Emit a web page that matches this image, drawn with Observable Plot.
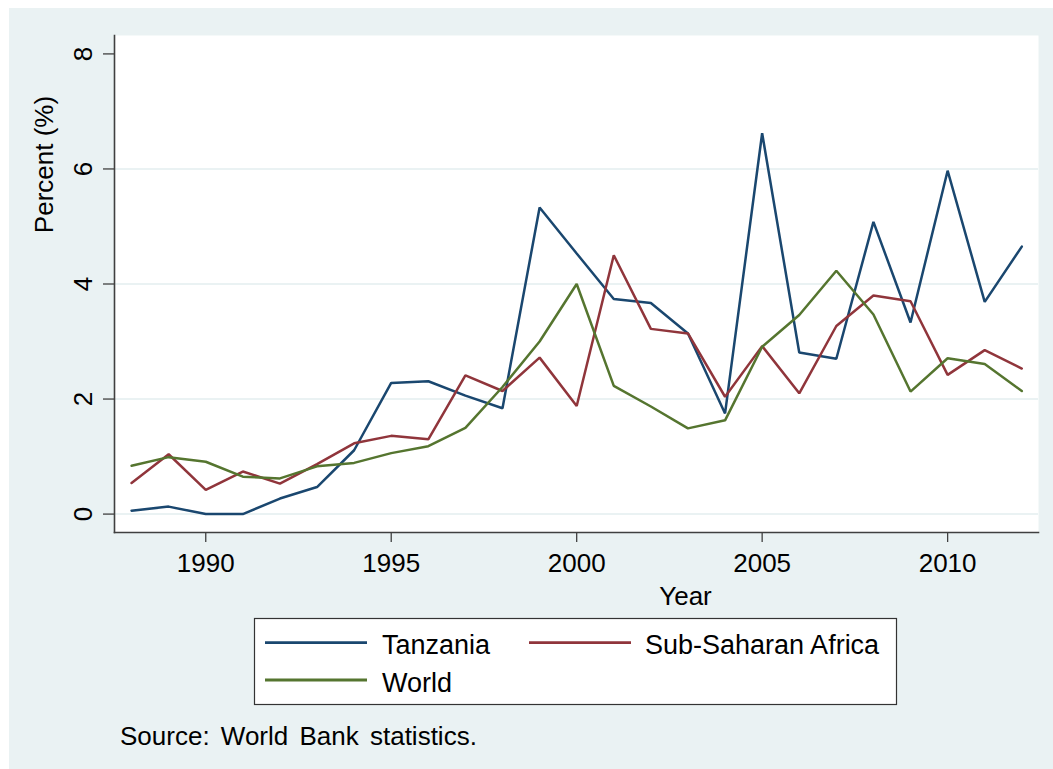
<!DOCTYPE html>
<html>
<head>
<meta charset="utf-8">
<script src="https://cdn.jsdelivr.net/npm/d3@7"></script>
<script src="https://cdn.jsdelivr.net/npm/@observablehq/plot@0.6"></script>
<style>
  html, body { margin: 0; padding: 0; background: #ffffff; }
  body { width: 1053px; height: 769px; position: relative; overflow: hidden;
         font-family: "Liberation Sans", Arial, Helvetica, sans-serif; }
  #bg { position: absolute; left: 9px; top: 8px; right: 0; bottom: 0; background: #EAF2F3; }
  #chart { position: absolute; left: 0; top: 0; }
  #legend { position: absolute; left: 254px; top: 618px; }
  #source { position: absolute; left: 120px; top: 723px; font-size: 26px; line-height: 26px;
            color: #000; white-space: nowrap; word-spacing: 4px; }
</style>
</head>
<body>
<div id="bg"></div>
<div id="chart"></div>
<div id="legend"></div>
<div id="source">Source: World Bank statistics.</div>
<script>
// Annual series, percent, 1988–2012
const years = [1988, 1989, 1990, 1991, 1992, 1993, 1994, 1995, 1996, 1997, 1998, 1999,
               2000, 2001, 2002, 2003, 2004, 2005, 2006, 2007, 2008, 2009, 2010, 2011, 2012];
const tanzania = [0.06, 0.13, 0.00, 0.00, 0.27, 0.47, 1.11, 2.28, 2.31, 2.06, 1.84, 5.33,
                  4.53, 3.74, 3.67, 3.14, 1.75, 6.62, 2.81, 2.70, 5.08, 3.33, 5.97, 3.69, 4.65];
const ssa      = [0.54, 1.04, 0.42, 0.74, 0.53, 0.87, 1.23, 1.36, 1.30, 2.41, 2.14, 2.72,
                  1.88, 4.50, 3.22, 3.14, 2.04, 2.92, 2.10, 3.27, 3.80, 3.70, 2.42, 2.85, 2.53];
const world    = [0.84, 0.99, 0.91, 0.65, 0.62, 0.83, 0.89, 1.06, 1.18, 1.50, 2.21, 3.00,
                  4.00, 2.23, 1.87, 1.49, 1.63, 2.91, 3.46, 4.23, 3.47, 2.13, 2.71, 2.61, 2.14];

const seriesNames = ["Tanzania", "Sub-Saharan Africa", "World"];
const seriesColors = ["#1A476F", "#90353B", "#55752F"];
const xTicks = [1990, 1995, 2000, 2005, 2010];
const yTicks = [0, 2, 4, 6, 8];
const gridTicks = [0, 2, 4, 6];

const rows = [];
[tanzania, ssa, world].forEach((vals, i) => {
  vals.forEach((v, j) => rows.push({series: seriesNames[i], year: years[j], value: v}));
});

const FONT = "Liberation Sans, Arial, Helvetica, sans-serif";
const axisColor = "#404040";

const chart = Plot.plot({
  width: 1053,
  height: 615,
  marginLeft: 114,
  marginRight: 15,
  marginTop: 35,
  marginBottom: 83,
  style: {fontFamily: FONT, fontSize: "26px", background: "transparent", color: "#000", overflow: "visible"},
  x: {domain: [1987.54, 2012.45], label: null},
  y: {domain: [-0.32, 8.32], label: null},
  color: {domain: seriesNames, range: seriesColors},
  marks: [
    Plot.frame({fill: "white", stroke: null}),
    Plot.gridY(gridTicks, {stroke: "#EAF2F3", strokeOpacity: 1, strokeWidth: 2}),
    Plot.line(rows, {x: "year", y: "value", z: "series", stroke: "series", strokeWidth: 2.5, strokeLinejoin: "miter"}),
    Plot.frame({anchor: "left", stroke: axisColor, strokeWidth: 1.6}),
    Plot.frame({anchor: "bottom", stroke: axisColor, strokeWidth: 1.6}),
    Plot.axisX(xTicks, {tickSize: 10, tickPadding: 11, fontSize: 26, stroke: axisColor, strokeWidth: 1.3,
                        fill: "#000", tickFormat: d => String(d), label: null}),
    Plot.axisY(yTicks, {tickSize: 11, stroke: axisColor, strokeWidth: 1.3, tickFormat: () => "", label: null}),
    // rotated y tick labels
    Plot.text(yTicks, {y: d => d, text: d => String(d), frameAnchor: "left", dx: -23,
                       rotate: -90, textAnchor: "middle", lineAnchor: "bottom", fontSize: 26, fill: "#000"}),
    // axis titles
    Plot.text(["Percent (%)"], {frameAnchor: "top-left", dx: -62, dy: 129, rotate: -90,
                                textAnchor: "middle", lineAnchor: "bottom", fontSize: 26, fill: "#000"}),
    Plot.text(["Year"], {frameAnchor: "bottom-left", dx: 571, dy: 72, textAnchor: "middle",
                         lineAnchor: "bottom", fontSize: 26, fill: "#000"})
  ]
});
document.getElementById("chart").appendChild(chart);

// Legend box below the plot
const lg = d3.create("svg").attr("width", 644).attr("height", 88)
  .style("font-family", FONT).style("font-size", "27px").style("overflow", "visible");
lg.append("rect").attr("x", 0.5).attr("y", 0.5).attr("width", 642).attr("height", 86)
  .attr("fill", "white").attr("stroke", "#333").attr("stroke-width", 1.2);
const legendItems = [
  {x: 11, y: 24.7, tx: 128, ty: 36.3},
  {x: 275, y: 24.7, tx: 391, ty: 36.3},
  {x: 11, y: 62, tx: 128, ty: 73.7}
];
seriesNames.forEach((name, i) => {
  const it = legendItems[i];
  lg.append("line").attr("x1", it.x).attr("x2", it.x + 102).attr("y1", it.y).attr("y2", it.y)
    .attr("stroke", seriesColors[i]).attr("stroke-width", 2.8);
  lg.append("text").attr("x", it.tx).attr("y", it.ty).attr("fill", "#000").text(name);
});
document.getElementById("legend").appendChild(lg.node());
</script>
</body>
</html>
